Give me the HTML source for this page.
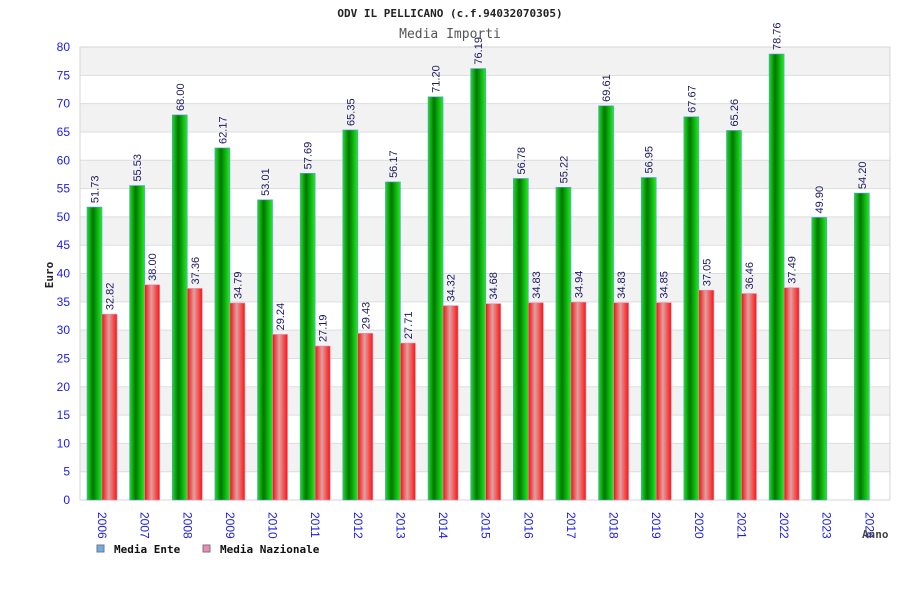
<!DOCTYPE html>
<html><head><meta charset="utf-8"><style>
body{margin:0;background:#fff}
svg{display:block;font-family:"DejaVu Sans Mono","Liberation Mono",monospace}
</style></head><body>
<svg id="c" width="900" height="600">
<defs>
<linearGradient id="gG" x1="0" x2="1"><stop offset="0" stop-color="#22dd22"/><stop offset="0.4" stop-color="#007700"/><stop offset="1" stop-color="#22ee22"/></linearGradient>
<linearGradient id="gR" x1="0" x2="1"><stop offset="0" stop-color="#ee1111"/><stop offset="0.45" stop-color="#e0a0a0"/><stop offset="1" stop-color="#ff1111"/></linearGradient>
</defs>
<text x="450" y="17" text-anchor="middle" font-size="11" font-weight="bold" fill="#222">ODV IL PELLICANO (c.f.94032070305)</text>
<text x="450" y="38" text-anchor="middle" font-size="13" fill="#555">Media Importi</text>
<g id="grid"></g><g id="bars"></g><g id="labels"></g>
<text transform="translate(53,275) rotate(-90)" text-anchor="middle" font-size="11" font-weight="bold" fill="#222">Euro</text>
<text x="862" y="538" font-size="11" font-weight="bold" fill="#444">Anno</text>
<g>
<rect x="97" y="545" width="7" height="7" fill="#6aaeee" stroke="#777"/>
<text x="114" y="553" font-size="11" font-weight="bold" fill="#111">Media Ente</text>
<rect x="203" y="545" width="7" height="7" fill="#ee88bb" stroke="#777"/>
<text x="220" y="553" font-size="11" font-weight="bold" fill="#111">Media Nazionale</text>
</g>
</svg>
<script>
const years=["2006","2007","2008","2009","2010","2011","2012","2013","2014","2015","2016","2017","2018","2019","2020","2021","2022","2023","2024"];
const ente=[51.73,55.53,68.00,62.17,53.01,57.69,65.35,56.17,71.20,76.19,56.78,55.22,69.61,56.95,67.67,65.26,78.76,49.90,54.20];
const naz=[32.82,38.00,37.36,34.79,29.24,27.19,29.43,27.71,34.32,34.68,34.83,34.94,34.83,34.85,37.05,36.46,37.49,null,null];
const yTicks=[0,5,10,15,20,25,30,35,40,45,50,55,60,65,70,75,80];
const NS="http://www.w3.org/2000/svg";
const L=80,R=890,T=47,B=500,yMax=80;
const y=v=>B-(v/yMax)*(B-T);
const gw=(R-L)/years.length;
const x=i=>L+i*gw;
function mk(tag,a,parent,txt){const e=document.createElementNS(NS,tag);for(const k in a)e.setAttribute(k,a[k]);if(txt!=null)e.textContent=txt;document.getElementById(parent).appendChild(e);return e;}
for(let i=0;i<yTicks.length-1;i++){
 if((yTicks.length-2-i)%2===0){const r=mk('rect',{x:L,y:y(yTicks[i+1]),width:R-L,height:y(yTicks[i])-y(yTicks[i+1]),fill:'#f2f2f2'},'grid');
 
 }
}
yTicks.forEach(t=>{
 const l=mk('line',{x1:L,x2:R,y1:y(t),y2:y(t),stroke:'#dddddd'},'grid');
 
 
 const tx=mk('text',{x:70,y:y(t)+4,'text-anchor':'end','font-size':12,fill:'#1a1aee','font-family':'Liberation Sans, sans-serif'},'labels',t);
 
 
});
const fr=mk('rect',{x:L,y:T,width:R-L,height:B-T,fill:'none',stroke:'#d6d6d6'},'grid');


const bw=15;
years.forEach((yr,i)=>{
 const gx=x(i)+7;
 const v=ente[i];
 const b=mk('rect',{x:gx,y:y(v),width:bw,height:B-y(v),fill:'url(#gG)',stroke:'#5599ee','stroke-width':0.6},'bars');
 
 
 const t=mk('text',{transform:`translate(${gx+bw/2+4},${y(v)-4}) rotate(-90)`,'font-size':11,fill:'#1a1a66','font-family':'Liberation Sans, sans-serif'},'labels',v.toFixed(2));
 
 
 if(naz[i]!=null){
  const w=naz[i];
  const rb=mk('rect',{x:gx+bw,y:y(w),width:bw,height:B-y(w),fill:'url(#gR)',stroke:'#ee88aa','stroke-width':0.6},'bars');
  
  
  const t2=mk('text',{transform:`translate(${gx+bw*1.5+4},${y(w)-4}) rotate(-90)`,'font-size':11,fill:'#1a1a66','font-family':'Liberation Sans, sans-serif'},'labels',w.toFixed(2));
  
  
 }
 const xl=mk('text',{transform:`translate(${gx+bw-4},${512}) rotate(90)`,'font-size':12,fill:'#1a1aee','font-family':'Liberation Sans, sans-serif'},'labels',yr);
 
 
});
</script>
</body></html>
